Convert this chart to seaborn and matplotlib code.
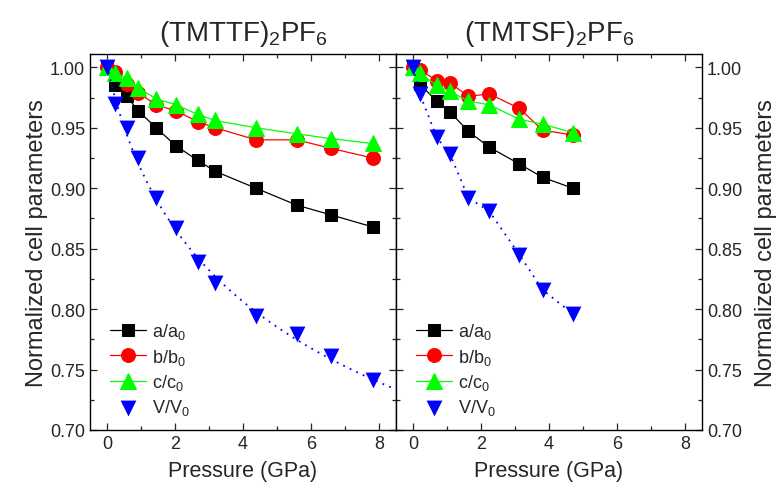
import matplotlib

matplotlib.use("Agg")
import matplotlib.pyplot as plt
import numpy as np
import seaborn as sns
from matplotlib.ticker import FormatStrFormatter, MultipleLocator

# (TMTTF)2PF6
P_TTF = [0.0, 0.24, 0.58, 0.92, 1.44, 2.03, 2.67, 3.18, 4.38, 5.58, 6.58, 7.81]
A_TTF = [1.000, 0.985, 0.976, 0.964, 0.950, 0.935, 0.923, 0.914, 0.900, 0.886, 0.878, 0.868]
B_TTF = [1.000, 0.996, 0.986, 0.979, 0.969, 0.964, 0.955, 0.950, 0.940, 0.940, 0.933, 0.925]
C_TTF = [1.000, 0.995, 0.991, 0.983, 0.974, 0.969, 0.961, 0.956, 0.950, 0.945, 0.941, 0.937]
V_TTF = [1.000, 0.970, 0.950, 0.925, 0.892, 0.867, 0.839, 0.822, 0.794, 0.779, 0.761, 0.741]

# (TMTSF)2PF6
P_TSF = [0.0, 0.2, 0.7, 1.09, 1.63, 2.24, 3.13, 3.81, 4.7]
A_TSF = [1.000, 0.986, 0.972, 0.963, 0.947, 0.934, 0.920, 0.909, 0.900]
B_TSF = [1.000, 0.998, 0.989, 0.987, 0.976, 0.978, 0.966, 0.948, 0.944]
C_TSF = [1.000, 0.995, 0.985, 0.980, 0.972, 0.969, 0.957, 0.953, 0.946]
V_TSF = [1.000, 0.978, 0.942, 0.928, 0.892, 0.881, 0.845, 0.816, 0.796]

TITLES = ["(TMTTF)$_2$PF$_6$", "(TMTSF)$_2$PF$_6$"]

sns.set_theme(style="ticks")
plt.rcParams["font.family"] = ["Liberation Sans", "DejaVu Sans"]
plt.rcParams["mathtext.fontset"] = "custom"
plt.rcParams["mathtext.rm"] = "Liberation Sans"
plt.rcParams["mathtext.it"] = "Liberation Sans:italic"

fig = plt.figure(figsize=(7.82, 4.85), dpi=100)
ax_l = fig.add_axes([90 / 782, 54 / 485, 306 / 782, 376 / 485])
ax_r = fig.add_axes([396 / 782, 54 / 485, 306 / 782, 376 / 485])

panels = [
    (ax_l, P_TTF, A_TTF, B_TTF, C_TTF, V_TTF, True),
    (ax_r, P_TSF, A_TSF, B_TSF, C_TSF, V_TSF, False),
]

for i, (ax, p, a, b, c, v, extend) in enumerate(panels):
    sns.lineplot(x=p, y=a, color="black", lw=0.9, marker="s", ms=9,
                 mec="black", label="a/a$_0$", ax=ax, sort=False)
    sns.lineplot(x=p, y=b, color="red", lw=0.9, marker="o", ms=10,
                 mec="red", label="b/b$_0$", ax=ax, sort=False)
    sns.lineplot(x=p, y=c, color="#00ff00", lw=0.9, marker="^", ms=11,
                 mec="#00ff00", label="c/c$_0$", ax=ax, sort=False)
    if extend:
        # dotted fit of the volume data (log-log quadratic), drawn to the axis edge
        coef = np.polyfit(np.log1p(p), np.log(v), 2)
        pp = np.linspace(0, 8.5, 120)
        ax.plot(pp, np.exp(np.polyval(coef, np.log1p(pp))), color="blue",
                ls=(0, (1, 3)), lw=1.3)
    else:
        ax.plot(p, v, color="blue", ls=(0, (1, 3)), lw=1.3)
    sns.scatterplot(x=p, y=v, color="blue", marker="v", s=130,
                    edgecolor="blue", linewidth=0, label="V/V$_0$", ax=ax, zorder=5)

    ax.set_xlim(-0.5, 8.5)
    ax.set_ylim(0.70, 1.011)
    ax.xaxis.set_major_locator(MultipleLocator(2))
    ax.xaxis.set_minor_locator(MultipleLocator(1))
    ax.yaxis.set_major_locator(MultipleLocator(0.05))
    ax.yaxis.set_minor_locator(MultipleLocator(0.025))
    ax.yaxis.set_major_formatter(FormatStrFormatter("%.2f"))
    ax.tick_params(which="both", direction="in", top=True, right=True,
                   left=True, bottom=True, labelsize=13, width=0.9)
    ax.tick_params(which="major", length=5)
    ax.tick_params(which="minor", length=3)
    for s in ax.spines.values():
        s.set_visible(True)
        s.set_linewidth(1.0)
        s.set_color("black")
    ax.set_xlabel("Pressure (GPa)", fontsize=15.5, labelpad=6)
    ax.set_title(TITLES[i], fontsize=20, pad=10)
    ax.legend(loc="lower left", bbox_to_anchor=(0.025, 0.0), frameon=False,
              fontsize=13, handlelength=2.0, labelspacing=0.3,
              borderaxespad=0.3, handletextpad=0.3)

ax_l.set_ylabel("Normalized cell parameters", fontsize=17, labelpad=1)
ax_r.yaxis.set_label_position("right")
ax_r.yaxis.tick_right()
ax_r.tick_params(which="both", left=True, labelleft=False, labelright=True)
ax_r.set_ylabel("Normalized cell parameters", fontsize=17, labelpad=9)

fig.savefig("out.png", dpi=100)
plt.close(fig)
